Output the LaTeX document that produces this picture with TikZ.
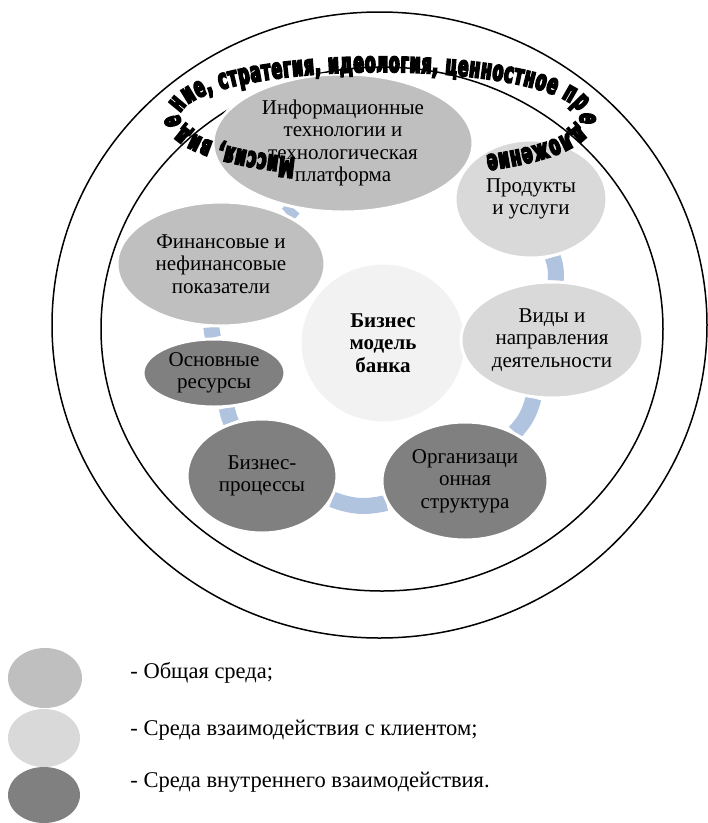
\documentclass[tikz,border=0pt]{standalone}
\usepackage{fontspec}
\setmainfont{Liberation Serif}
\newfontfamily\mottofamily{DejaVu Sans}[BoldFeatures={FakeBold=6,FakeStretch=0.56}]
\usepackage{tikz}
\usetikzlibrary{positioning,shapes.geometric,decorations.text,backgrounds}
\definecolor{envgray}{HTML}{BFBFBF}
\definecolor{clientgray}{HTML}{D9D9D9}
\definecolor{innergray}{HTML}{808080}
\definecolor{coregray}{HTML}{F2F2F2}
\definecolor{linkblue}{HTML}{B0C3DF}
\newcommand\mottofont{\mottofamily\bfseries\fontsize{28}{28}\selectfont}

\begin{document}
\begin{tikzpicture}[x=1pt,y=-1pt,
    unit/.style={ellipse,draw=white,line width=3pt,inner sep=0pt,align=center,font=\fontsize{21}{22.5}\selectfont},
    link/.style={draw=linkblue,line width=16pt},
    key/.style={ellipse,inner sep=0pt},
    keytext/.style={inner sep=0pt,font=\fontsize{22.5}{24}\selectfont}]

\useasboundingbox (0,0) rectangle (708,823);

\draw[line width=1.5pt] (379.5,325) ellipse [x radius=327.5,y radius=313];
\draw[line width=1.5pt] (382,329) ellipse [x radius=281,y radius=262];

\node[unit,fill=coregray,minimum width=166pt,minimum height=160pt,font=\bfseries\fontsize{21}{22.5}\selectfont] (core) at (383,343) {Бизнес\\модель\\банка};

\node[unit,fill=envgray,minimum width=260pt,minimum height=138pt] (it) at (343,143) {Информационные\\технологии и\\технологическая\\платформа};
\node[unit,fill=clientgray,minimum width=152pt,minimum height=118pt] (prod) at (531,199) {Продукты\\и услуги};
\node[unit,fill=clientgray,minimum width=182pt,minimum height=116pt] (vid) at (552,340) {Виды и\\направления\\деятельности};
\node[unit,fill=innergray,minimum width=166pt,minimum height=118pt] (org) at (465,481) {Организаци\\онная\\структура};
\node[unit,fill=innergray,minimum width=150pt,minimum height=114pt] (bp) at (262,476) {Бизнес-\\процессы};
\node[unit,fill=innergray,minimum width=142pt,minimum height=68pt] (osn) at (214,373) {Основные\\ресурсы};
\node[unit,fill=envgray,minimum width=208pt,minimum height=124pt] (fin) at (221,264) {Финансовые и\\нефинансовые\\показатели};

\begin{pgfonlayer}{background}
\draw[link] (prod) to[bend left=12] (vid);
\draw[link] (vid) to[bend left=14] (org);
\draw[link] (org) to[bend left=17] (bp);
\draw[link] (bp) to[bend left=5] (osn);
\draw[link] (osn) to[bend left=5] (fin);
\draw[link] (fin) to[bend right=8] (it);
\end{pgfonlayer}

\coordinate (mc) at (380,117);
\path[decorate,decoration={text along path,text align=fit to path,
    text={|\mottofont|Миссия, видение, стратегия, идеология, ценностное предложение}}]
    ([shift={(115:200 and 45)}]mc) arc[start angle=115,end angle=418,x radius=200,y radius=45];

\node[key,fill=envgray,minimum width=74pt,minimum height=60pt] (k1) at (45,678) {};
\node[key,fill=clientgray,minimum width=72pt,minimum height=58pt] (k2) at (44,738) {};
\node[key,fill=innergray,minimum width=72pt,minimum height=56pt] (k3) at (44,795) {};
\node[keytext,right=48pt of k1,yshift=5pt] (t1) {- Общая среда;};
\node[keytext,right=50pt of k2,yshift=8pt] (t2) {- Среда взаимодействия с клиентом;};
\node[keytext,right=50pt of k3,yshift=13pt] (t3) {- Среда внутреннего взаимодействия.};

\end{tikzpicture}
\end{document}
